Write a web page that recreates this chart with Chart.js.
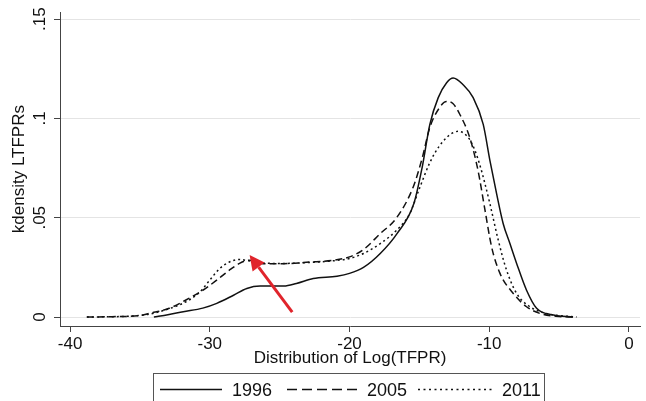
<!DOCTYPE html>
<html>
<head>
<meta charset="utf-8">
<script src="https://cdn.jsdelivr.net/npm/chart.js@4"></script>
<style>
  html,body{margin:0;padding:0;background:#fff;}
  #wrap{width:646px;height:401px;position:relative;}
</style>
</head>
<body>
<div id="wrap"><canvas id="c" width="646" height="401"></canvas></div>
<script>
// ---- data ----
const seriesLabels = ["1996", "2005", "2011"];
const x1996 = [-34.0,-33.0,-31.9,-30.5,-29.5,-28.3,-27.35,-26.4,-24.7,-23.8,-22.6,-20.9,-20.0,-19.0,-17.8,-16.6,-15.4,-14.8,-14.25,-13.65,-13.05,-12.58,-11.87,-11.15,-10.43,-9.95,-9.47,-9.0,-8.52,-8.04,-7.33,-6.61,-5.4,-4.0];
const y1996 = [0.0,0.0012,0.0027,0.0045,0.0069,0.011,0.0144,0.0156,0.0156,0.0169,0.0194,0.0206,0.022,0.025,0.032,0.042,0.057,0.0754,0.097,0.1105,0.118,0.1204,0.117,0.1105,0.097,0.0788,0.062,0.047,0.037,0.027,0.0135,0.0044,0.001,0.0];
const x2005 = [-38.8,-37,-35,-34.3,-32.9,-31.5,-30.5,-29.5,-28.6,-27.9,-27.2,-26.2,-24.7,-22.8,-21.2,-20.0,-19.0,-17.8,-16.63,-15.44,-14.8,-14.25,-13.6,-13.06,-12.6,-12.1,-11.4,-10.8,-10.3,-9.83,-9.23,-8.28,-7.33,-6.37,-5.0,-4.0];
const y2005 = [0.0,0.0002,0.0008,0.0019,0.0044,0.0094,0.0135,0.0186,0.0236,0.0269,0.0286,0.0269,0.0269,0.0277,0.0286,0.0303,0.034,0.042,0.050,0.0655,0.08,0.0955,0.105,0.1085,0.1075,0.102,0.0905,0.0737,0.0537,0.0353,0.022,0.0119,0.0052,0.0018,0.0003,0.0];
const x2011 = [-38.8,-35,-33,-31.5,-30.7,-30.0,-29.3,-28.6,-27.9,-27.2,-26.2,-24.7,-22.8,-21.2,-20.0,-19.0,-17.8,-16.63,-15.7,-14.96,-14.25,-13.6,-13.06,-12.6,-12.2,-11.8,-11.38,-11.0,-10.67,-10.3,-9.95,-9.35,-8.76,-8.04,-7.09,-5.9,-3.75];
const y2011 = [0.0,0.0008,0.004,0.0085,0.0127,0.0186,0.0244,0.0277,0.029,0.0283,0.0272,0.027,0.0275,0.0283,0.0295,0.032,0.037,0.0437,0.052,0.0654,0.0778,0.0858,0.0903,0.0928,0.0935,0.0925,0.0892,0.0835,0.0765,0.067,0.057,0.0386,0.0236,0.0119,0.0052,0.0018,0.0];
const xTicks = [-40, -30, -20, -10, 0];
const yTicks = [0, 0.05, 0.1, 0.15];
const yTickLabels = ["0", ".05", ".1", ".15"];
// red arrow annotation (tail -> head, in data units)
const arrowX = [-24.1, -27.15];
const arrowY = [0.0025, 0.0312];

const FONT = "'Liberation Sans', Arial, sans-serif";
const toPts = (xs, ys) => xs.map((x, i) => ({x: x, y: ys[i]}));

const arrowPlugin = {
  id: 'arrow',
  afterDatasetsDraw(chart) {
    const {ctx, scales: {x, y}} = chart;
    const x0 = x.getPixelForValue(arrowX[0]), y0 = y.getPixelForValue(arrowY[0]);
    const x1 = x.getPixelForValue(arrowX[1]), y1 = y.getPixelForValue(arrowY[1]);
    const ang = Math.atan2(y1 - y0, x1 - x0);
    const hl = 15, hw = 7.5;
    const bx = x1 - hl * Math.cos(ang), by = y1 - hl * Math.sin(ang);
    ctx.save();
    ctx.strokeStyle = '#e0242b';
    ctx.fillStyle = '#e0242b';
    ctx.lineWidth = 3;
    ctx.beginPath();
    ctx.moveTo(x0, y0);
    ctx.lineTo(bx, by);
    ctx.stroke();
    ctx.beginPath();
    ctx.moveTo(x1, y1);
    ctx.lineTo(bx + hw * Math.sin(ang), by - hw * Math.cos(ang));
    ctx.lineTo(bx - hw * Math.sin(ang), by + hw * Math.cos(ang));
    ctx.closePath();
    ctx.fill();
    ctx.restore();
  }
};

const legendPlugin = {
  id: 'boxLegend',
  afterDraw(chart) {
    const ctx = chart.ctx;
    ctx.save();
    ctx.strokeStyle = '#555';
    ctx.lineWidth = 1;
    ctx.strokeRect(153.5, 373.5, 391, 40);
    const items = [
      {lx0: 160, lx1: 222, tx: 232},
      {lx0: 287, lx1: 357, tx: 367},
      {lx0: 418, lx1: 493, tx: 502}
    ];
    const dashes = [[], [10, 5], [2, 3.5]];
    chart.data.datasets.forEach((ds, i) => {
      const it = items[i];
      ctx.strokeStyle = '#111';
      ctx.lineWidth = 1.5;
      ctx.setLineDash(dashes[i]);
      ctx.beginPath();
      ctx.moveTo(it.lx0, 389.5);
      ctx.lineTo(it.lx1, 389.5);
      ctx.stroke();
      ctx.setLineDash([]);
      ctx.fillStyle = '#111';
      ctx.font = "18px " + FONT;
      ctx.textBaseline = 'middle';
      ctx.textAlign = 'left';
      ctx.fillText(ds.label, it.tx, 391);
    });
    ctx.restore();
  }
};

new Chart(document.getElementById('c'), {
  type: 'line',
  data: {
    datasets: [
      {label: seriesLabels[0], data: toPts(x1996, y1996), borderColor: '#111', borderWidth: 1.5, borderDash: [], pointRadius: 0, cubicInterpolationMode: 'monotone', fill: false},
      {label: seriesLabels[1], data: toPts(x2005, y2005), borderColor: '#111', borderWidth: 1.5, borderDash: [7, 4], pointRadius: 0, cubicInterpolationMode: 'monotone', fill: false},
      {label: seriesLabels[2], data: toPts(x2011, y2011), borderColor: '#111', borderWidth: 1.5, borderDash: [2, 3], pointRadius: 0, cubicInterpolationMode: 'monotone', fill: false}
    ]
  },
  options: {
    responsive: false,
    devicePixelRatio: 1,
    animation: false,
    layout: {padding: {left: 0, right: 6, top: 10, bottom: 32}},
    plugins: {legend: {display: false}, tooltip: {enabled: false}},
    scales: {
      x: {
        type: 'linear',
        min: -40.72, max: 0.79,
        afterBuildTicks: s => { s.ticks = xTicks.map(v => ({value: v})); },
        afterFit: s => { s.height = 43; },
        grid: {drawOnChartArea: false, drawTicks: true, tickLength: 6, tickColor: '#444'},
        border: {display: true, color: '#444', width: 1},
        ticks: {font: {family: FONT, size: 17}, color: '#111', padding: 2, maxRotation: 0, autoSkip: false,
                callback: v => String(v)},
        title: {display: true, text: 'Distribution of Log(TFPR)', font: {family: FONT, size: 17}, color: '#111', padding: 0}
      },
      y: {
        min: -0.0045, max: 0.1535,
        afterBuildTicks: s => { s.ticks = yTicks.map(v => ({value: v})); },
        afterFit: s => { s.width = 60; },
        grid: {drawOnChartArea: true, color: '#e4e4e4', lineWidth: 1, drawTicks: true, tickLength: 6, tickColor: '#444'},
        border: {display: true, color: '#444', width: 1},
        ticks: {font: {family: FONT, size: 17}, color: '#111', padding: 2, minRotation: 90, maxRotation: 90,
                crossAlign: 'center', autoSkip: false,
                callback: (v) => { const i = yTicks.indexOf(v); return i >= 0 ? yTickLabels[i] : ''; }},
        title: {display: true, text: 'kdensity LTFPRs', font: {family: FONT, size: 17}, color: '#111', padding: {top: 9, bottom: 0}}
      }
    }
  },
  plugins: [arrowPlugin, legendPlugin]
});
</script>
</body>
</html>
